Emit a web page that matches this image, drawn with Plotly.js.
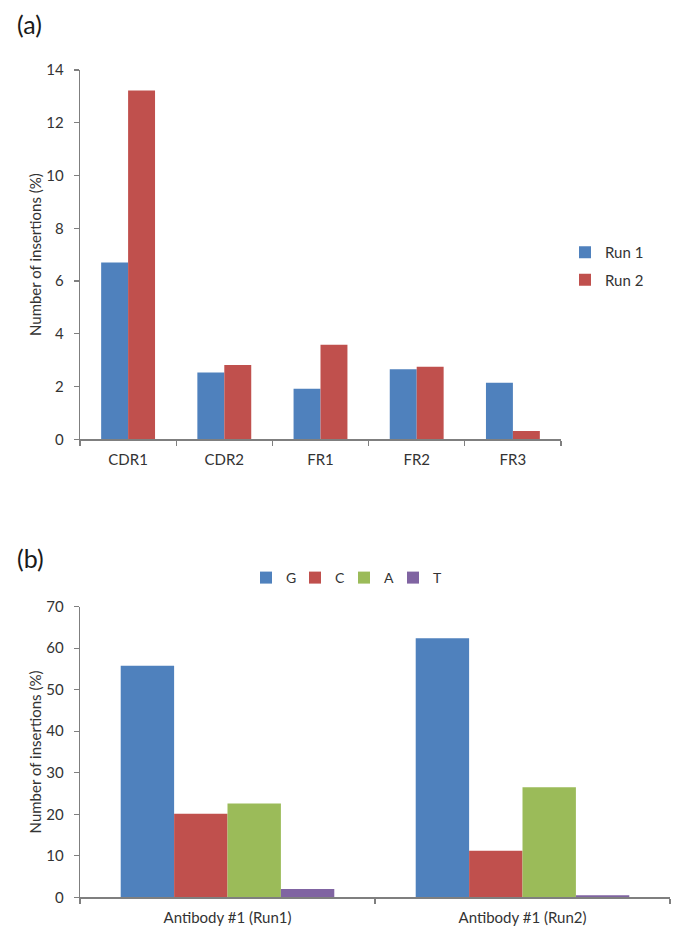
<!DOCTYPE html>
<html><head><meta charset="utf-8">
<script src="https://cdn.plot.ly/plotly-3.0.1.min.js"></script>
<style>html,body{margin:0;padding:0;background:#fff}#chart{width:685px;height:937px}</style>
</head><body><div id="chart"></div>
<script>
// Panel (a)
const regions = ["CDR1", "CDR2", "FR1", "FR2", "FR3"];
const run1 = [6.70, 2.53, 1.92, 2.66, 2.14];
const run2 = [13.22, 2.82, 3.58, 2.75, 0.31];
// Panel (b)
const antibodies = ["Antibody #1 (Run1)", "Antibody #1 (Run2)"];
const gVals = [55.8, 62.4];
const cVals = [20.1, 11.2];
const aVals = [22.6, 26.5];
const tVals = [2.0, 0.5];

const W = 685, H = 937;
const px = v => v / W;
const py = v => 1 - v / H;
const axisCol = '#7f7f7f';
const txtCol = '#333333';

const wA = 0.28, wB = 0.181;
const traces = [
  {type:'bar', x:regions, y:run1, name:'Run 1', marker:{color:'#4F81BD'}, width:wA, offset:-wA, xaxis:'x', yaxis:'y', legend:'legend', legendgroup:'r1'},
  {type:'bar', x:regions, y:run2, name:'Run 2', marker:{color:'#C0504D'}, width:wA, offset:0, xaxis:'x', yaxis:'y', legend:'legend', legendgroup:'r2'},
  {type:'bar', x:antibodies, y:gVals, name:'G', marker:{color:'#4F81BD'}, width:wB, offset:-2*wB, xaxis:'x2', yaxis:'y2', legend:'legend2'},
  {type:'bar', x:antibodies, y:cVals, name:'C', marker:{color:'#C0504D'}, width:wB, offset:-wB, xaxis:'x2', yaxis:'y2', legend:'legend2'},
  {type:'bar', x:antibodies, y:aVals, name:'A', marker:{color:'#9BBB59'}, width:wB, offset:0, xaxis:'x2', yaxis:'y2', legend:'legend2'},
  {type:'bar', x:antibodies, y:tVals, name:'T', marker:{color:'#8064A2'}, width:wB, offset:wB, xaxis:'x2', yaxis:'y2', legend:'legend2'}
];

const axBase = {showline:true, linecolor:axisCol, linewidth:1.3, ticks:'outside', ticklen:5, tickcolor:axisCol, tickwidth:1.3, showgrid:false, zeroline:false, tickfont:{size:15, color:txtCol}};
const xBase = Object.assign({}, axBase, {type:'category', tickson:'boundaries', ticklabelstandoff:6});
const yBase = Object.assign({}, axBase, {ticklabelstandoff:7});
const yTitle = {text:'Number of insertions (%)', font:{size:15, color:txtCol}, standoff:1};

const layout = {
  width: W, height: H,
  margin: {l:0, r:0, t:0, b:0},
  paper_bgcolor:'#fff', plot_bgcolor:'#fff',
  font: {family:'Lato, "Open Sans", sans-serif', color:txtCol, size:15},
  barmode:'overlay',
  showlegend:true,
  xaxis: Object.assign({}, xBase, {domain:[px(80), px(561)], anchor:'y'}),
  yaxis: Object.assign({}, yBase, {domain:[py(439.3), py(70)], anchor:'x', range:[0,14], dtick:2, title:yTitle}),
  xaxis2: Object.assign({}, xBase, {domain:[px(80), px(670)], anchor:'y2'}),
  yaxis2: Object.assign({}, yBase, {domain:[py(897.3), py(606.7)], anchor:'x2', range:[0,70], dtick:10, title:yTitle}),
  legend: {x:px(565), y:py(236), xanchor:'left', yanchor:'top', orientation:'v', font:{size:15, color:txtCol}, tracegroupgap:5, bgcolor:'rgba(0,0,0,0)'},
  legend2: {x:px(344), y:py(578), xanchor:'center', yanchor:'middle', orientation:'h', entrywidth:4, font:{size:14, color:txtCol}, bgcolor:'rgba(0,0,0,0)'},
  annotations: [
    {text:'(a)', xref:'paper', yref:'paper', x:px(15), y:py(24), xanchor:'left', yanchor:'middle', showarrow:false, font:{size:25, color:'#1a1a1a'}},
    {text:'(b)', xref:'paper', yref:'paper', x:px(15), y:py(558), xanchor:'left', yanchor:'middle', showarrow:false, font:{size:25, color:'#1a1a1a'}}
  ]
};

Plotly.newPlot('chart', traces, layout, {displayModeBar:false, staticPlot:true});
</script>
</body></html>
